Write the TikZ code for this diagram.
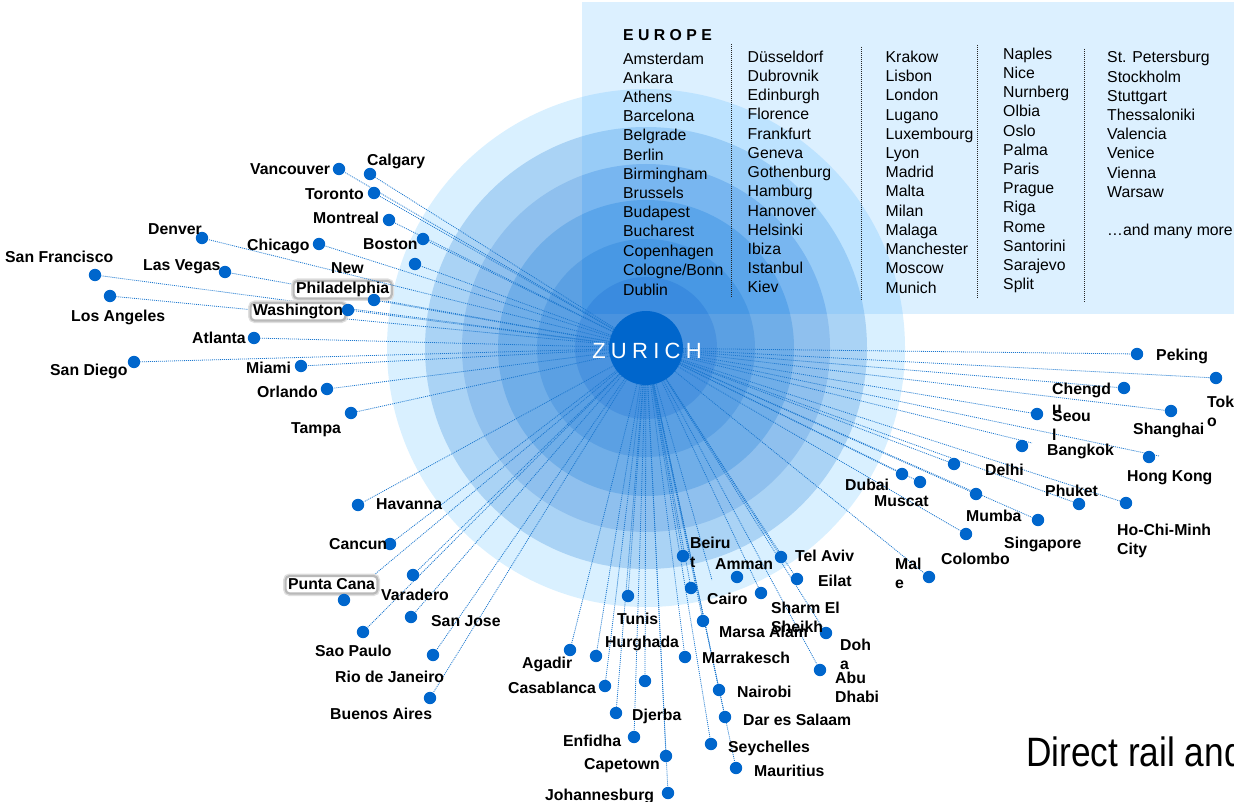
\documentclass[tikz,border=0pt]{standalone}
\usepackage{fontspec}
\setmainfont{Liberation Sans}
\definecolor{bluedark}{HTML}{0066CC}
\definecolor{linkblue}{HTML}{1C78CF}
\definecolor{boxbg}{HTML}{DCF0FF}
\definecolor{ringA}{HTML}{D9F0FF}\definecolor{ringB}{HTML}{AAD3F5}\definecolor{ringC}{HTML}{8FC0EE}
\definecolor{ringD}{HTML}{70AEE8}\definecolor{ringE}{HTML}{5BA0E3}\definecolor{ringF}{HTML}{4A93DF}
\definecolor{inA}{HTML}{BDE3FF}\definecolor{inB}{HTML}{98CCF7}\definecolor{inC}{HTML}{78B6F0}
\definecolor{inD}{HTML}{5BA5EA}\definecolor{inE}{HTML}{4898E4}\definecolor{inF}{HTML}{3A8BDF}
\pgfdeclarelayer{baselayer}\pgfdeclarelayer{connlayer}\pgfdeclarelayer{halolayer}\pgfdeclarelayer{overlayer}
\pgfsetlayers{baselayer,connlayer,halolayer,overlayer,main}
\tikzset{
  citydot/.style={circle,fill=bluedark,minimum size=12.4pt,inner sep=0pt},
  link/.style={draw=linkblue,line width=0.8pt,dash pattern=on 1pt off 1pt},
  citylabel/.style={anchor=base west,inner sep=0pt,align=left,font=\fontsize{15.8}{19}\selectfont\bfseries,text=black},
  halolabel/.style={anchor=base west,inner xsep=2.5pt,inner ysep=1.5pt,text height=11.5pt,text depth=3pt,
    font=\fontsize{15.8}{19}\selectfont\bfseries,fill=white,rounded corners=4pt,
    preaction={draw=gray!25,line width=5pt},draw=gray!55,line width=2.2pt},
  eucity/.style={anchor=base west,inner sep=0pt,font=\fontsize{15.8}{19}\selectfont,text=black},
  divider/.style={draw=black!85,line width=0.8pt,dash pattern=on 1pt off 1pt},
}
\begin{document}
\begin{tikzpicture}[x=1pt,y=-1pt]
\useasboundingbox (0,0) rectangle (1234,802);
\coordinate (c) at (646,348);
\begin{pgfonlayer}{baselayer}
% rings outside the box
\foreach \r/\col in {259/ringA,221/ringB,184/ringC,148/ringD,109/ringE,71/ringF}
  \fill[\col] (c) circle[radius=\r];
% the Europe box with rings seen through it
\fill[boxbg] (582,2) rectangle (1234,314);
\begin{scope}
  \clip (582,2) rectangle (1234,314);
  \foreach \r/\col in {259/inA,221/inB,184/inC,148/inD,109/inE,71/inF}
    \fill[\col] (c) circle[radius=\r];
\end{scope}
\end{pgfonlayer}
\node[circle,fill=bluedark,minimum size=74pt,inner sep=0pt] (zurich) at (c) {};
% city dots and their connectors
\foreach \nm/\x/\y in {
 Vancouver/339/169,Calgary/370/174,Toronto/374/193,Montreal/389/220,Boston/423/239,NewYork/415/264,
 Chicago/319/244,LasVegas/225/272,SanFrancisco/95/275,LosAngeles/110/296,Philadelphia/374/300,
 Washington/348/310,Atlanta/254/338,SanDiego/134/362,Miami/301/366,Orlando/327/389,Tampa/351/413,
 Havanna/358/505,Cancun/390/544,Varadero/413/575,PuntaCana/344/600,SaoPaulo/363/632,SanJose/411/617,
 Rio/433/655,BuenosAires/430/698,Agadir/570/650,Casablanca/605/686,Hurghada/596/656,Tunis/628/596,
 Marrakesch/685/657,Djerba/645/681,Enfidha/634/737,Tanger/616/713,Capetown/666/756,Johannesburg/668/793,
 Beirut/683/556,Cairo/691/588,MarsaAlam/703/621,Nairobi/719/690,DarEsSalaam/725/717,Seychelles/711/744,
 Mauritius/736/768,TelAviv/781/557,Eilat/797/579,Sharm/761/593,Doha/826/633,AbuDhabi/820/670,
 Male/929/577,Colombo/966/534,Peking/1137/354,Tokyo/1216/378,Chengdu/1124/388,Shanghai/1171/411,
 Seoul/1037/414,Delhi/954/464,Dubai/902/474,Muscat/920/482,Mumbai/976/494,Phuket/1079/504,
 HoChiMinh/1126/503,Singapore/1038/520}
 { \node[citydot] (d\nm) at (\x,\y) {};
   \begin{pgfonlayer}{connlayer}\draw[link] (zurich) -- (d\nm);\end{pgfonlayer} }
% connectors whose far end has no dot of its own
\coordinate (endHongKong) at (1159,456);
\coordinate (endBangkok) at (1032,443);
\coordinate (endAmman) at (712,580);
\begin{pgfonlayer}{connlayer}
\draw[link] (zurich) -- (endHongKong);
\draw[link] (zurich) -- (endBangkok);
\draw[link] (zurich) -- (endAmman);
\end{pgfonlayer}
\node[citydot] (dHongKong) at (1149,457) {};
\node[citydot] (dBangkok) at (1022,446) {};
\node[citydot] (dAmman) at (737,577) {};
% labels with a halo
\begin{pgfonlayer}{halolayer}
\node[halolabel] (lPhiladelphia) at (292.5,294) {Philadelphia};
\node[halolabel] (lWashington) at (249.5,316) {Washington};
\node[halolabel] (lPuntaCana) at (284.5,589) {Punta Cana};
\end{pgfonlayer}
% Denver runs over the halo
\node[citydot] (dDenver) at (202,238) {};
\begin{pgfonlayer}{overlayer}
\draw[link] (zurich) -- (dDenver);
\end{pgfonlayer}
% labels
\foreach \i/\x/\y/\t in {
 1/250/175/Vancouver,2/367/166/Calgary,3/305/200/Toronto,4/313/224/Montreal,5/363/250/Boston,
 6/247/251/Chicago,7/148/235/Denver,8/143/271/Las Vegas,9/5/263/San Francisco,10/71/322/Los Angeles,
 11/331/274/New,12/192/343/Atlanta,13/50/375/San Diego,14/246/373/Miami,15/257/397/Orlando,16/291/433/Tampa,
 17/376/509/Havanna,18/329/549/Cancun,19/381/600/Varadero,20/431/626/San Jose,21/315/656/Sao Paulo,
 22/335/682/Rio de Janeiro,23/330/719/Buenos Aires,24/522/668/Agadir,25/508/693/Casablanca,26/617/624/Tunis,
 27/605/647/Hurghada,28/632/720/Djerba,29/563/746/Enfidha,30/584/769/Capetown,31/545/800/Johannesburg,
 32/690/567/{Beiru\\t},33/715/569/Amman,34/795/561/Tel Aviv,35/818/586/Eilat,36/707/604/Cairo,
 37/771/632/{Sharm El\\Sheikh},38/719/637/Marsa Alam,39/840/669/{Doh\\a},40/835/702/{Abu\\Dhabi},
 41/702/663/Marrakesch,42/737/697/Nairobi,43/743/725/Dar es Salaam,44/728/752/Seychelles,45/754/776/Mauritius,
 46/895/588/{Mal\\e},47/1156/360/Peking,48/1207/426/{Tok\\o},49/1052/413/{Chengd\\u},50/1052/440/{Seou\\l},
 51/1133/434/Shanghai,52/1047/455/Bangkok,53/1127/481/Hong Kong,54/985/475/Delhi,55/845/490/Dubai,
 56/874/506/Muscat,57/1045/496/Phuket,58/966/521/Mumba,59/1117/554/{Ho-Chi-Minh\\City},60/1004/548/Singapore,
 61/941/564/Colombo}
 \node[citylabel] (l\i) at (\x,\y) {\t};
% Europe list
\node[citylabel] (europe) at (623,41) {E U R O P E};
\foreach \i/\x/\y/\t in {
 1/623/65/Amsterdam,2/623/84/Ankara,3/623/103/Athens,4/623/122/Barcelona,5/623/141/Belgrade,6/623/161/Berlin,
 7/623/180/Birmingham,8/623/199/Brussels,9/623/218/Budapest,10/623/237/Bucharest,11/623/257/Copenhagen,
 12/623/276/Cologne\slash Bonn,13/623/295/Dublin,
 14/747.5/63/Düsseldorf,15/747.5/82/Dubrovnik,16/747.5/101/Edinburgh,17/747.5/120/Florence,18/747.5/140/Frankfurt,
 19/747.5/159/Geneva,20/747.5/178/Gothenburg,21/747.5/197/Hamburg,22/747.5/217/Hannover,23/747.5/236/Helsinki,
 24/747.5/255/Ibiza,25/747.5/274/Istanbul,26/747.5/293/Kiev,
 27/885.5/63/Krakow,28/885.5/82/Lisbon,29/885.5/101/London,30/885.5/121/Lugano,31/885.5/140/Luxembourg,
 32/885.5/159/Lyon,33/885.5/178/Madrid,34/885.5/197/Malta,35/885.5/217/Milan,36/885.5/236/Malaga,
 37/885.5/255/Manchester,38/885.5/274/Moscow,39/885.5/294/Munich,
 40/1003/60/Naples,41/1003/79/Nice,42/1003/98/Nurnberg,43/1003/117/Olbia,44/1003/137/Oslo,45/1003/156/Palma,
 46/1003/175/Paris,47/1003/194/Prague,48/1003/213/Riga,49/1003/233/Rome,50/1003/252/Santorini,
 51/1003/271/Sarajevo,52/1003/290/Split,
 53/1107/63/St. Petersburg,54/1107/83/Stockholm,55/1107/102/Stuttgart,56/1107/121/Thessaloniki,
 57/1107/140/Valencia,58/1107/159/Venice,59/1107/179/Vienna,60/1107/198/Warsaw,61/1107/236/…and many more}
 \node[eucity] (eu\i) at (\x,\y) {\t};
% dividers
\coordinate (da1) at (731,44);\coordinate (db1) at (731,298);
\coordinate (da2) at (861,47);\coordinate (db2) at (861,300);
\coordinate (da3) at (977,45);\coordinate (db3) at (977,298);
\coordinate (da4) at (1084,49);\coordinate (db4) at (1084,303);
\foreach \k in {1,2,3,4} \draw[divider] (da\k) -- (db\k);
% hub label
\node[anchor=base,inner sep=0pt,text=white,font=\fontsize{22}{26}\selectfont\addfontfeature{LetterSpace=24}] (hublabel) at (647,358) {ZURICH};
% title, cut off by the page edge
\node[anchor=base west,inner sep=0pt,xscale=0.86,font=\fontsize{41}{48}\selectfont,text=black] (title) at (1026,766) {Direct rail and};
\end{tikzpicture}
\end{document}
